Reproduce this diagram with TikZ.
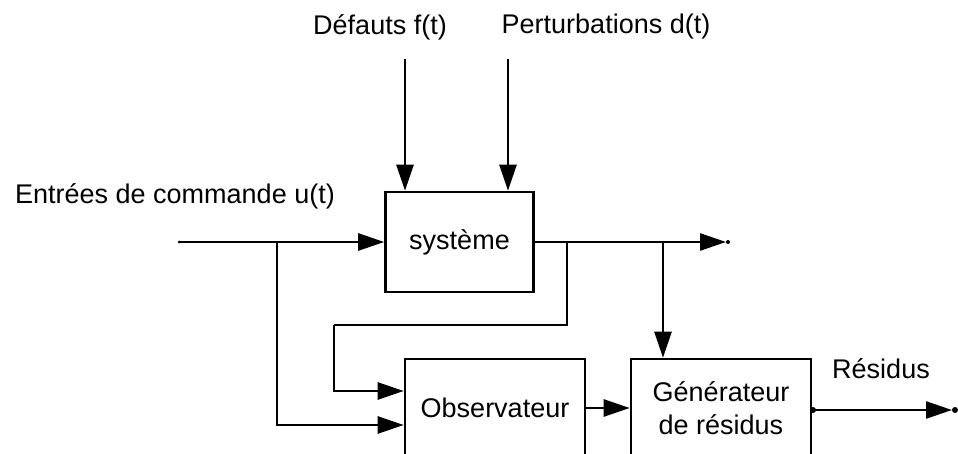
\documentclass[tikz,border=0pt]{standalone}
\usepackage{fontspec}
\setmainfont{Liberation Sans}
\usetikzlibrary{arrows.meta,calc}
\begin{document}
\begin{tikzpicture}[x=1pt,y=-1pt,
  line width=2.6pt,
  blk/.style={draw, rectangle, inner sep=0pt, font=\fontsize{27}{33}\selectfont, align=center},
  lbl/.style={font=\fontsize{27}{33}\selectfont, inner sep=0pt},
  tip/.style={-{Triangle[length=26pt,width=17pt]}},
  pin/.style={fill, circle, inner sep=0pt, minimum size=#1}
]
\useasboundingbox (0,0) rectangle (958,454);
\clip (0,0) rectangle (958,454);

% blocks
\node[blk, minimum width=148pt, minimum height=100pt] (sys) at (459.5,242) {système};
\node[blk, minimum width=180pt, minimum height=98pt] (obs) at (495,408) {Observateur};
\node[blk, minimum width=180pt, minimum height=98pt] (gen) at (721,408) {Générateur\\de résidus};

% labels
\node[lbl] (fl) at (380,27) {Défauts f(t)};
\node[lbl] (dl) at (606,27) {Perturbations d(t)};
\node[lbl] (ul) at (175,196) {Entrées de commande u(t)};
\node[lbl] (rl) at (881,369) {Résidus};

% free ends and branch points
\coordinate (f0) at (405,59);
\coordinate (d0) at (508,59);
\coordinate (uin) at (179,242);
\coordinate (ub) at (277,242);
\coordinate (yb1) at (567,242);
\coordinate (ycorner) at (334,325);
\coordinate (yb2) at (663,242);
\coordinate (yout) at (726,242);
\coordinate (rout) at (952,410);

% faults and disturbances
\draw[tip] (f0) -- (f0 |- sys.north);
\draw[tip] (d0) -- (d0 |- sys.north);

% control input
\draw[tip] (uin) -- (sys.west);
\draw[tip] (ub) |- ($(obs.west)+(0,17)$);

% system output
\draw[tip] (sys.east) -- (yout);
\draw (yb1) |- (ycorner);
\draw[tip] (ycorner) |- ($(obs.west)+(0,-17)$);
\draw[tip] (yb2) -- (yb2 |- gen.north);

% observer to residual generator
\draw[tip] (obs.east) -- (gen.west);

% residuals
\draw[tip] (gen.east |- rout) -- (rout);

% small terminal dots
\node[pin=3pt] (p1) at (uin) {};
\node[pin=4pt] (p2) at (728,242) {};
\node[pin=6pt] (p3) at (813,410) {};
\node[pin=6pt] (p4) at (955,410) {};
\end{tikzpicture}
\end{document}
